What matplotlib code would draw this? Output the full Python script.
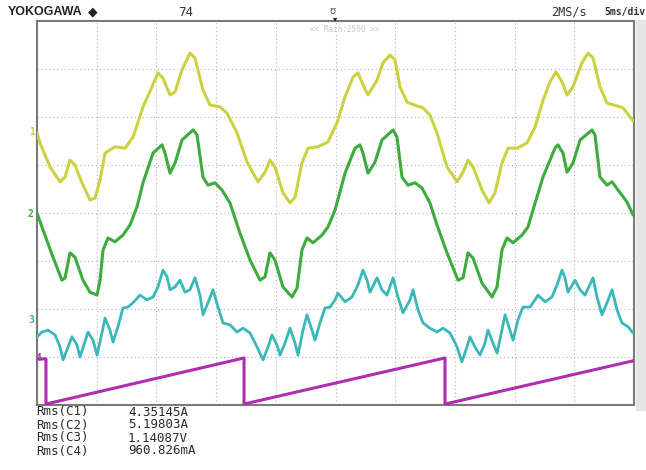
import matplotlib.pyplot as plt
from matplotlib.patches import Rectangle

# time in ms (5 ms/div), amplitude in divisions from the bottom of the screen
yel_t = [0, 0.25, 1.09, 1.93, 2.35, 2.76, 3.18, 3.77, 4.44, 4.86,
         5.28, 5.70, 6.53, 7.37, 8.04, 8.88, 9.63, 10.13, 10.55, 11.14,
         11.56, 12.14, 12.81, 13.23, 13.90, 14.49, 15.33, 15.91, 16.75, 17.59,
         18.51, 19.10, 19.51, 19.93, 20.60, 21.19, 21.61, 22.19, 22.70, 23.53,
         24.37, 25.13, 25.80, 26.47, 26.88, 27.30, 27.72, 28.48, 28.98, 29.56,
         29.98, 30.40, 30.99, 31.83, 32.33, 32.91, 33.50, 34.34, 35.18, 35.68,
         36.10, 36.52, 37.27, 37.86, 38.36, 38.94, 39.45, 40.20, 41.04, 41.71,
         42.38, 42.96, 43.47, 43.97, 44.39, 44.89, 45.64, 46.15, 46.57, 47.15,
         47.74, 48.58, 49.08, 49.92]
yel_v = [5.67, 5.46, 4.96, 4.65, 4.75, 5.10, 5.00, 4.63, 4.27, 4.31,
         4.69, 5.25, 5.38, 5.35, 5.58, 6.21, 6.63, 6.92, 6.81, 6.46,
         6.52, 6.98, 7.33, 7.23, 6.56, 6.25, 6.21, 6.08, 5.67, 5.06,
         4.65, 4.85, 5.10, 4.96, 4.42, 4.21, 4.33, 5.04, 5.35, 5.38,
         5.48, 5.88, 6.42, 6.83, 6.92, 6.67, 6.46, 6.77, 7.13, 7.29,
         7.19, 6.63, 6.31, 6.23, 6.19, 6.04, 5.67, 4.96, 4.65, 4.85,
         5.10, 4.96, 4.48, 4.21, 4.42, 5.04, 5.35, 5.35, 5.46, 5.79,
         6.35, 6.73, 6.94, 6.73, 6.46, 6.63, 7.13, 7.33, 7.23, 6.63,
         6.29, 6.23, 6.19, 5.92]

grn_t = [0, 0.50, 1.34, 2.09, 2.35, 2.76, 3.18, 3.85, 4.44, 5.03,
         5.28, 5.53, 5.95, 6.53, 7.20, 7.79, 8.38, 8.88, 9.72, 10.47,
         10.72, 11.14, 11.56, 12.14, 13.07, 13.40, 13.90, 14.32, 14.91, 15.49,
         16.16, 17.00, 17.84, 18.68, 19.10, 19.51, 19.93, 20.60, 21.36, 21.78,
         22.19, 22.61, 23.12, 23.87, 24.37, 24.96, 25.80, 26.63, 27.05, 27.30,
         27.72, 28.31, 28.89, 29.82, 30.15, 30.57, 31.07, 31.66, 32.24, 32.91,
         33.50, 34.34, 35.26, 35.68, 36.10, 36.52, 37.27, 38.11, 38.53, 38.94,
         39.36, 39.87, 40.62, 41.12, 41.54, 42.38, 43.38, 43.63, 44.05, 44.39,
         44.89, 45.48, 46.48, 46.73, 47.15, 47.74, 48.16, 48.66, 49.41, 49.92]
grn_v = [4.00, 3.65, 3.08, 2.60, 2.65, 3.17, 3.08, 2.60, 2.35, 2.29,
         2.60, 3.23, 3.48, 3.40, 3.54, 3.75, 4.13, 4.63, 5.25, 5.42,
         5.25, 4.83, 5.04, 5.52, 5.73, 5.63, 4.75, 4.58, 4.63, 4.48,
         4.21, 3.58, 3.02, 2.60, 2.67, 3.17, 3.02, 2.46, 2.25, 2.44,
         3.23, 3.48, 3.38, 3.54, 3.71, 4.06, 4.83, 5.35, 5.42, 5.25,
         4.83, 5.06, 5.52, 5.73, 5.58, 4.75, 4.58, 4.63, 4.52, 4.21,
         3.75, 3.17, 2.60, 2.65, 3.17, 3.06, 2.54, 2.25, 2.46, 3.23,
         3.48, 3.38, 3.54, 3.71, 4.06, 4.75, 5.35, 5.42, 5.25, 4.85,
         5.04, 5.52, 5.73, 5.63, 4.75, 4.58, 4.65, 4.48, 4.23, 3.96]

cyn_t = [0, 0.42, 0.92, 1.51, 1.93, 2.18, 2.60, 2.93, 3.35, 3.60,
         3.85, 4.27, 4.69, 5.03, 5.44, 5.70, 6.11, 6.37, 6.78, 7.20,
         7.62, 8.04, 8.63, 9.21, 9.72, 10.13, 10.55, 10.89, 11.14, 11.56,
         11.98, 12.40, 12.81, 13.23, 13.65, 13.90, 14.32, 14.74, 15.16, 15.58,
         16.16, 16.75, 17.25, 17.84, 18.43, 18.93, 19.35, 19.68, 20.10, 20.35,
         20.77, 21.19, 21.61, 21.86, 22.28, 22.61, 23.03, 23.28, 23.70, 24.12,
         24.54, 24.96, 25.21, 25.80, 26.38, 26.88, 27.30, 27.64, 27.89, 28.48,
         28.89, 29.31, 29.82, 30.23, 30.65, 31.24, 31.49, 31.91, 32.33, 32.91,
         33.50, 34.00, 34.59, 35.18, 35.59, 36.01, 36.26, 36.68, 37.10, 37.52,
         37.77, 38.19, 38.53, 38.94, 39.20, 39.61, 39.87, 40.28, 40.70, 41.29,
         41.71, 41.96, 42.55, 43.13, 43.55, 43.97, 44.22, 44.47, 45.06, 45.48,
         45.90, 46.57, 46.90, 47.32, 47.74, 48.16, 48.58, 48.99, 49.50, 49.92]
cyn_v = [1.42, 1.52, 1.56, 1.46, 1.21, 0.94, 1.21, 1.42, 1.25, 1.00,
         1.19, 1.52, 1.35, 1.04, 1.50, 1.81, 1.56, 1.31, 1.63, 2.02,
         2.04, 2.13, 2.29, 2.19, 2.25, 2.46, 2.81, 2.67, 2.40, 2.46,
         2.60, 2.35, 2.40, 2.65, 2.29, 1.88, 2.13, 2.40, 2.04, 1.71,
         1.67, 1.52, 1.60, 1.50, 1.21, 0.94, 1.21, 1.46, 1.25, 1.04,
         1.29, 1.60, 1.29, 1.04, 1.56, 1.88, 1.56, 1.35, 1.71, 2.02,
         2.04, 2.19, 2.33, 2.15, 2.25, 2.50, 2.81, 2.60, 2.35, 2.65,
         2.40, 2.29, 2.65, 2.25, 1.92, 2.19, 2.40, 1.98, 1.71, 1.60,
         1.52, 1.60, 1.50, 1.21, 0.90, 1.21, 1.42, 1.21, 1.04, 1.29,
         1.56, 1.29, 1.08, 1.56, 1.88, 1.56, 1.35, 1.77, 2.04, 2.04,
         2.19, 2.29, 2.15, 2.25, 2.50, 2.81, 2.65, 2.35, 2.60, 2.40,
         2.29, 2.65, 2.25, 1.88, 2.13, 2.40, 1.98, 1.71, 1.63, 1.50]

mag_t = [0, 0.75, 0.75, 17.34, 17.34, 34.17, 34.17, 49.92]
mag_v = [0.96, 0.96, 0.02, 0.98, 0.02, 0.98, 0.02, 0.92]

rms_names = ['Rms(C1)', 'Rms(C2)', 'Rms(C3)', 'Rms(C4)']
rms_vals = ['4.35145A', '5.19803A', '1.14087V', '960.826mA']

c_yel = '#ccd142'
c_grn = '#3dab3d'
c_cyn = '#3ab8b8'
c_mag = '#b02cb0'

fig = plt.figure(figsize=(6.46, 4.70), dpi=100)
fig.patches.append(Rectangle((636/646, 60/470), 10/646, 390/470,
                             transform=fig.transFigure, color='#e6e6e6', zorder=0))
ax = fig.add_axes([37/646, 65/470, 597/646, 384/470])
ax.set_xlim(0, 50)
ax.set_ylim(0, 8)
ax.set_xticks([])
ax.set_yticks([])
for s in ax.spines.values():
    s.set_color('#7a7a7a')
    s.set_linewidth(1.5)

# graticule
for k in range(1, 10):
    ax.axvline(k * 5, color='#b4b4b4', lw=0.8, ls=(0, (1, 2.5)), zorder=1)
for k in range(1, 8):
    ax.axhline(k, color='#b4b4b4', lw=0.8, ls=(0, (1, 2.5)), zorder=1)

kw = dict(zorder=3, solid_joinstyle='round', solid_capstyle='round')
ax.plot(yel_t, yel_v, color=c_yel, lw=2.2, **kw)
ax.plot(grn_t, grn_v, color=c_grn, lw=2.2, **kw)
ax.plot(cyn_t, cyn_v, color=c_cyn, lw=2.0, **kw)
ax.plot(mag_t, mag_v, color=c_mag, lw=2.2, zorder=3)

mono = 'DejaVu Sans Mono'
# channel markers on the left edge
fig.text(32/646, 1 - 132/470, '1', color=c_yel, fontsize=7, ha='center', va='center',
         family=mono, fontweight='bold')
fig.text(30/646, 1 - 214/470, '2', color=c_grn, fontsize=7, ha='center', va='center',
         family=mono, fontweight='bold')
fig.text(31/646, 1 - 320/470, '3', color=c_cyn, fontsize=7, ha='center', va='center',
         family=mono, fontweight='bold')
fig.text(38/646, 1 - 358/470, '4', color=c_mag, fontsize=7, ha='center', va='center',
         family=mono, fontweight='bold')

# header
fig.text(8/646, 1 - 12/470, 'YOKOGAWA', fontsize=9, fontweight='bold', va='center',
         family='Liberation Sans', color='#222222')
fig.text(88/646, 1 - 12/470, '◆', fontsize=9, va='center', color='#222222')
fig.text(178/646, 1 - 12/470, '74', fontsize=9, va='center', family=mono, color='#333333')
fig.text(333/646, 1 - 11/470, 'ʊ', fontsize=7, va='center', ha='center', color='#555555')
fig.text(335/646, 1 - 19/470, '▾', fontsize=6, va='center', ha='center', color='#222222')
fig.text(551/646, 1 - 12/470, '2MS/s', fontsize=8.5, va='center', family=mono, color='#333333')
fig.text(604/646, 1 - 12/470, '5ms/div', fontsize=7, va='center', family=mono,
         color='#333333', fontweight='bold')
fig.text(345/646, 1 - 29/470, '<< Main:2500 >>', fontsize=5.5, va='center', ha='center',
         family=mono, color='#c8c8c8')

# rms readouts
for i, (n, v) in enumerate(zip(rms_names, rms_vals)):
    y = 1 - (412 + 13 * i) / 470
    fig.text(36/646, y, n, fontsize=9, va='center', family=mono, color='#2a2a2a')
    fig.text(128/646, y, v, fontsize=9, va='center', family=mono, color='#2a2a2a')

fig.savefig('out.png', dpi=100)
